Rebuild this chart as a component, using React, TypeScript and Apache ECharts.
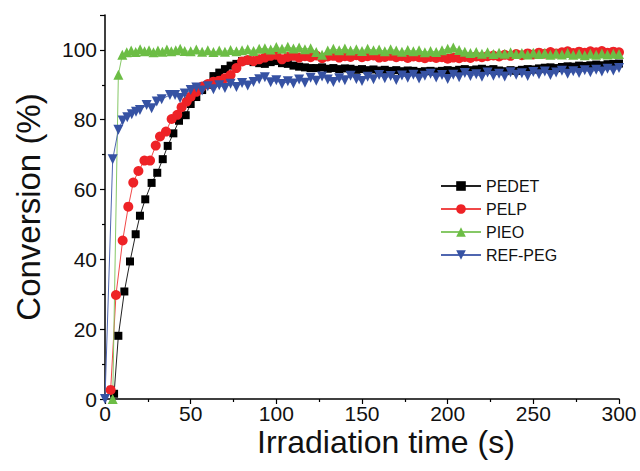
import React, { useEffect, useRef } from "react";
import * as echarts from "echarts";

// Shared time grid for the plateau part (s)
const timeTail = [
  50, 53.3, 56.7, 60, 63.3, 66.7, 70, 73.3, 76.7, 80, 83.3, 86.7, 90, 93.3, 96.7,
  100, 103.3, 106.7, 110, 113.3, 116.7, 120, 123.3, 126.7, 130, 133.3, 136.7, 140,
  143.3, 146.7, 150, 153.3, 156.7, 160, 163.3, 166.7, 170, 173.3, 176.7, 180, 183.3,
  186.7, 190, 193.3, 196.7, 200, 203.3, 206.7, 210, 213.3, 216.7, 220, 223.3, 226.7,
  230, 233.3, 236.7, 240, 243.3, 246.7, 250, 253.3, 256.7, 260, 263.3, 266.7, 270,
  273.3, 276.7, 280, 283.3, 286.7, 290, 293.3, 296.7, 300,
];

// PEDET
const pedetEarlyTime = [5.3, 7.8, 11.3, 14.6, 17.9, 20.4, 23.5, 27.2, 30.5, 33.7, 36.6, 39.9, 43.2, 47.1];
const pedetEarlyValue = [1.5, 18.1, 30.8, 39.4, 47.2, 52.5, 57.2, 61.9, 64.8, 68.7, 72.5, 76.1, 79.7, 81.3];
const pedetTail = [
  84.5, 86.5, 88.5, 90, 92.5, 93.5, 94.5, 95.5, 96, 96.8, 97, 96.5, 96.2, 96, 96.5,
  96.8, 96.2, 96, 95.5, 95.2, 95, 94.8, 94.8, 95, 94.6, 94.8, 94.5, 94.7, 94.6, 94.3,
  94.5, 94.2, 94.4, 94.1, 94.3, 94, 94.2, 93.9, 94.1, 94, 93.7, 93.9, 94, 93.8, 94,
  94.2, 94, 94.3, 94.5, 94.2, 94.4, 94.6, 94.3, 94.5, 94.1, 93.9, 94.2, 94, 94.3, 94.5,
  94.4, 94.7, 94.9, 95, 94.8, 95.1, 95.3, 95.2, 95.5, 95.4, 95.6, 95.8, 95.6, 95.9, 96, 96.1,
];

// PELP
const pelpEarlyTime = [3.3, 6.4, 10.3, 13.6, 16.5, 19.5, 23, 26.3, 29.6, 32.1, 35.6, 38.9, 42.2, 44.7, 47.7];
const pelpEarlyValue = [2.6, 29.8, 45.4, 55.1, 62, 65.3, 68.3, 68.3, 72.6, 75.2, 76.6, 80.2, 81.4, 83.6, 85.2];
const pelpTail = [
  86.6, 88, 89.5, 90.2, 90.9, 91.2, 91.9, 92.8, 94.8, 96.7, 97.1, 96.8, 97.3, 97.8, 98.3,
  98.6, 97.3, 98, 98.3, 97.8, 98.2, 97.9, 98.4, 97.6, 98.1, 98.3, 97.8, 98.2, 98, 98.5,
  97.9, 98.2, 98.4, 97.8, 98, 98.3, 97.9, 98.2, 97.7, 98.1, 97.9, 97.6, 98, 97.7, 97.9,
  97.5, 97.8, 97.6, 98, 97.7, 98.1, 97.9, 98.2, 98.4, 98.1, 98.6, 98.3, 98.8, 98.5, 99,
  98.7, 99.2, 98.9, 99.4, 99, 99.3, 99.6, 99.1, 99.5, 99.2, 99.6, 99.3, 99.7, 99.2, 99.5, 99.3,
];

// PIEO
const pieoEarlyTime = [4.5, 7.8, 10.1, 12.7, 15.3, 17.9, 20.5, 23.1, 25.7, 28.3, 30.9, 33.5, 36.1, 38.7, 41.3, 43.9, 46.5];
const pieoEarlyValue = [0, 92.9, 98.6, 99.3, 99.8, 99.4, 100.2, 99.6, 99.9, 99.3, 99.8, 99.5, 100.1, 99.6, 99.9, 100.3, 99.7];
const pieoTail = [
  99.6, 100.1, 99.5, 99.9, 99.4, 99.8, 99.5, 100, 99.6, 99.9, 100.2, 99.7, 100.3, 100.5, 100.1,
  100.8, 100.3, 100.9, 100.4, 100.7, 100.2, 100.5, 99.4, 98.6, 99.8, 100.3, 99.9, 100.4, 99.8, 100.2,
  99.7, 100.3, 99.9, 100.1, 99.6, 100.2, 99.8, 99.5, 100, 99.6, 99.9, 99.3, 99.7, 99.4, 99.9,
  100.3, 100.7, 100, 99.5, 99.1, 99.4, 98.9, 99.3, 98.8, 99.2, 98.9, 99.3, 98.8, 99.1, 98.7,
  99.2, 98.8, 99.1, 98.6, 99, 98.7, 99.1, 98.6, 98.9, 98.5, 98.9, 98.6, 99, 98.7, 98.9, 98.8,
];

// REF-PEG
const refEarlyTime = [0, 4.5, 7.8, 10.3, 13, 15.6, 18.1, 20.4, 24.3, 27.2, 30.2, 33.1, 37.9, 40.9, 43.8, 46.5];
const refEarlyValue = [0, 68.7, 77.1, 79.8, 80.7, 81.6, 82.3, 82.8, 84.2, 83.3, 85.2, 85.9, 87.1, 87.1, 86.2, 87.5];
const refTail = [
  88.5, 89.2, 88.4, 89.6, 88.7, 89.9, 89.1, 90.3, 89.4, 90.5, 89.8, 90.8, 91.6, 92.2, 90.7,
  91.3, 90.2, 91, 90.4, 91.5, 90.6, 92, 91.2, 92.4, 91.5, 90.8, 91.9, 91.3, 92.6, 91.7,
  91.1, 92.3, 91.6, 92.8, 91.9, 92.5, 91.4, 92.7, 92, 92.9, 91.8, 92.6, 93.2, 92.1, 92.8,
  91.7, 92.9, 92.2, 93.4, 92.5, 93, 92.3, 93.5, 92.6, 93.2, 92.4, 93.6, 92.9, 93.3, 92.5,
  93.7, 93, 93.8, 92.8, 93.5, 94, 93.2, 93.9, 93.4, 94.2, 93.6, 94.3, 93.8, 94.6, 94.1, 94.8,
];

const xTicksMax = 300;
const yTicksMax = 110;

function pairs(t1: number[], v1: number[], t2: number[], v2: number[]) {
  const out: [number, number][] = [];
  t1.forEach((t, i) => out.push([t, v1[i]]));
  t2.forEach((t, i) => out.push([t, v2[i]]));
  return out;
}

const FONT = "'Liberation Sans', Arial, sans-serif";

export default function App() {
  const ref = useRef<HTMLDivElement>(null);
  useEffect(() => {
    if (!ref.current) return;
    const chart = echarts.init(ref.current, undefined, { renderer: "svg" });
    const mk = (
      name: string,
      data: [number, number][],
      symbol: string,
      size: number,
      color: string,
      lineColor: string,
      rotate = 0
    ) => ({
      name,
      type: "line",
      data,
      symbol,
      symbolSize: size,
      symbolRotate: rotate,
      showSymbol: true,
      itemStyle: { color },
      lineStyle: { color: lineColor, width: 1 },
      emphasis: { disabled: true },
    });
    chart.setOption({
      animation: false,
      textStyle: { fontFamily: FONT },
      grid: { left: 105, right: 21, top: 15, bottom: 72, containLabel: false },
      legend: {
        orient: "vertical",
        left: 440,
        top: 178,
        padding: 0,
        itemWidth: 40,
        itemHeight: 12,
        itemGap: 7,
        textStyle: { fontSize: 16, color: "#111", fontFamily: FONT },
        data: ["PEDET", "PELP", "PIEO", "REF-PEG"],
      },
      xAxis: {
        type: "value",
        min: 0,
        max: xTicksMax,
        interval: 50,
        axisLine: { show: true, lineStyle: { color: "#000", width: 1.5 } },
        axisTick: { show: true, length: 5, lineStyle: { color: "#000", width: 1.2 } },
        minorTick: { show: true, splitNumber: 2, length: 3, lineStyle: { color: "#000", width: 1.2 } },
        splitLine: { show: false },
        axisLabel: { fontSize: 21, color: "#111", margin: 4, fontFamily: FONT },
      },
      yAxis: {
        type: "value",
        min: 0,
        max: yTicksMax,
        interval: 20,
        axisLine: { show: true, lineStyle: { color: "#000", width: 1.5 } },
        axisTick: { show: true, length: 5, lineStyle: { color: "#000", width: 1.2 } },
        minorTick: { show: true, splitNumber: 2, length: 3, lineStyle: { color: "#000", width: 1.2 } },
        splitLine: { show: false },
        axisLabel: { fontSize: 21, color: "#111", margin: 8, showMaxLabel: false, fontFamily: FONT },
      },
      graphic: [
        {
          type: "text",
          x: 257,
          y: 442,
          style: {
            text: "Irradiation time (s)",
            fontSize: 32,
            fontFamily: FONT,
            fill: "#111",
            textAlign: "left",
            textVerticalAlign: "middle",
          },
        },
        {
          type: "text",
          x: 28,
          y: 207,
          rotation: Math.PI / 2,
          style: {
            text: "Conversion (%)",
            fontSize: 33,
            fontFamily: FONT,
            fill: "#111",
            textAlign: "center",
            textVerticalAlign: "middle",
          },
        },
      ],
      series: [
        mk("PEDET", pairs(pedetEarlyTime, pedetEarlyValue, timeTail, pedetTail), "rect", 8, "#000000", "#222222"),
        mk("PELP", pairs(pelpEarlyTime, pelpEarlyValue, timeTail, pelpTail), "circle", 10, "#ee2226", "#f04848"),
        mk("PIEO", pairs(pieoEarlyTime, pieoEarlyValue, timeTail, pieoTail), "triangle", 10, "#6cbd45", "#86c866"),
        mk("REF-PEG", pairs(refEarlyTime, refEarlyValue, timeTail, refTail), "triangle", 10, "#3652a3", "#4f66b0", 180),
      ],
    });
    return () => chart.dispose();
  }, []);
  return (
    <div
      ref={ref}
      style={{ position: "fixed", left: 0, top: 0, width: 640, height: 471, background: "#fff" }}
    />
  );
}
